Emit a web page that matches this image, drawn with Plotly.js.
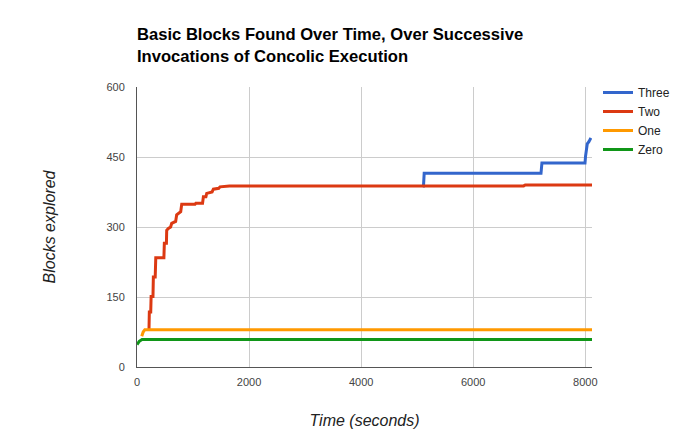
<!DOCTYPE html>
<html>
<head>
<meta charset="utf-8">
<script src="https://cdn.plot.ly/plotly-3.0.1.min.js"></script>
<style>html,body{margin:0;padding:0;background:#fff;}#chart{width:698px;height:447px;}</style>
</head>
<body>
<div id="chart"></div>
<script>
// Series names (legend order)
const seriesNames = ["Three", "Two", "One", "Zero"];
const seriesColors = ["#3366cc", "#dc3912", "#ff9900", "#109618"];

// Three
const timeThree   = [5100, 5113, 5125, 7210, 7226, 7995, 8005, 8020, 8035, 8065, 8100];
const blocksThree = [388, 388, 415, 415, 437, 437, 452, 465, 478, 483, 491];

// Two
const timeTwo   = [214, 220, 245, 252, 285, 292, 325, 335, 480, 488, 525, 530, 560, 600, 619, 690, 708, 780, 798, 1036, 1050, 1170, 1185, 1230, 1244, 1340, 1363, 1460, 1482, 1600, 1650, 6900, 6930, 8120];
const blocksTwo = [80, 118, 118, 151, 151, 193, 193, 234, 234, 265, 265, 293, 297, 300, 308, 312, 326, 333, 349, 349, 351, 351, 365, 365, 372, 375, 381, 383, 386, 387, 388, 388, 390, 390];

// One
const timeOne   = [85, 110, 140, 8120];
const blocksOne = [66, 75, 80, 80];

// Zero
const timeZero   = [0, 40, 90, 8120];
const blocksZero = [48, 55, 59, 59];

const xs = [timeThree, timeTwo, timeOne, timeZero];
const ys = [blocksThree, blocksTwo, blocksOne, blocksZero];

const traces = seriesNames.map((n, i) => ({
  type: "scatter", mode: "lines", name: n,
  x: xs[i], y: ys[i],
  line: {color: seriesColors[i], width: 3}
}));

const layout = {
  width: 698, height: 447,
  margin: {l: 137, r: 106, t: 87, b: 80, pad: 0},
  paper_bgcolor: "#fff", plot_bgcolor: "#fff",
  font: {family: "Liberation Sans, Arial, sans-serif", color: "#444", size: 11},
  title: {
    text: "<b>Basic Blocks Found Over Time, Over Successive<br>Invocations of Concolic Execution</b>",
    font: {size: 16.6, color: "#000", family: "Liberation Sans, Arial, sans-serif"},
    xref: "container", yref: "container",
    x: 137/698, xanchor: "left",
    y: 1 - 40/447, yanchor: "top"
  },
  xaxis: {
    range: [0, 8120], dtick: 2000, tick0: 0,
    showgrid: true, gridcolor: "#cccccc", gridwidth: 1,
    zeroline: false, showline: true, linecolor: "#555", linewidth: 1,
    ticks: "", ticklabelstandoff: 5, tickfont: {size: 11, color: "#444"},
    title: {text: "<i>Time (seconds)</i>", font: {size: 16, color: "#222"}, standoff: 27}
  },
  yaxis: {
    range: [0, 600], dtick: 150, tick0: 0,
    showgrid: true, gridcolor: "#cccccc", gridwidth: 1,
    zeroline: false, showline: true, linecolor: "#555", linewidth: 1,
    ticks: "", ticklabelstandoff: 9, tickfont: {size: 11, color: "#444"},
    title: {text: "<i>Blocks explored</i>", font: {size: 16, color: "#222"}, standoff: 46}
  },
  legend: {
    x: (598 - 137) / 455, xanchor: "left",
    y: 1 + 9/280, yanchor: "top",
    font: {size: 12, color: "#222"},
    bgcolor: "rgba(0,0,0,0)",
    tracegroupgap: 0
  },
  showlegend: true
};

Plotly.newPlot("chart", traces, layout, {staticPlot: true, displayModeBar: false});
</script>
</body>
</html>
